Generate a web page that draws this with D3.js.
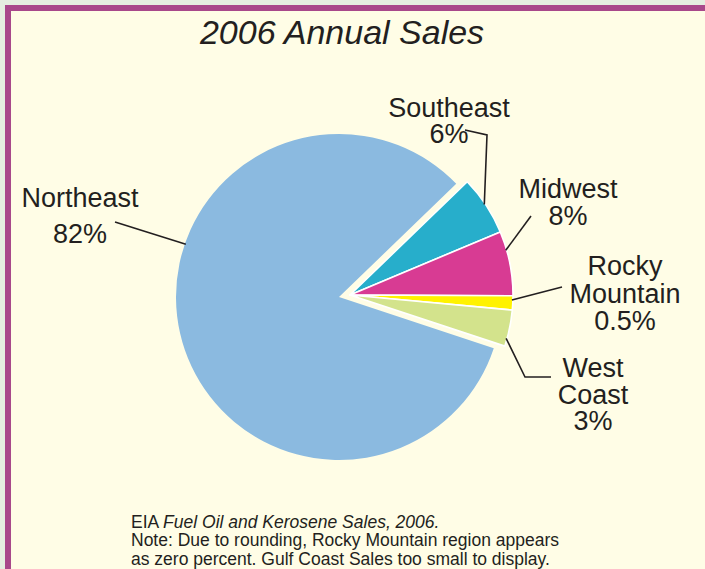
<!DOCTYPE html>
<html>
<head>
<meta charset="utf-8">
<script src="https://cdn.jsdelivr.net/npm/d3@7"></script>
<style>
  body { margin: 0; background: #e4eee0; }
  svg { display: block; font-family: "Liberation Sans", Arial, Helvetica, sans-serif; }
</style>
</head>
<body>
<div id="chart"></div>
<script>
// regions in drawing order (clockwise from the top right)
const regions = ["Southeast", "Midwest", "Rocky Mountain", "West Coast", "Northeast"];
// share of the circle as drawn in the picture (percent)
const drawnShares = [5.9, 6.4, 1.4, 3.6, 82.7];
// percentages printed on the labels
const pctLabels = ["6%", "8%", "0.5%", "3%", "82%"];
const sliceColors = ["#27aecb", "#d83b93", "#fff200", "#d3e38c", "#8bbae0"];

// label placement (first baseline, line height, leader line points from the text side)
const labelLayout = [
    {x: 449, y: 117, lh: 26, anchor: 56, leader: [[465, 130], [487, 135]]},
    {x: 568, y: 198, lh: 27, anchor: 74, leader: [[531, 216]]},
    {x: 625, y: 275, lh: 27.5, anchor: 91.8, leader: [[562, 287]]},
    {x: 593, y: 377, lh: 26.5, anchor: 105.5, leader: [[551, 377], [525, 377]]},
    {x: 80, y: 207, lh: 36, anchor: 289, leader: [[115, 222]]}
];
const labelText = [["Southeast"], ["Midwest"], ["Rocky", "Mountain"], ["West", "Coast"], ["Northeast"]];

const footLines = [
    ["EIA ", "Fuel Oil and Kerosene Sales, 2006."],
    ["Note: Due to rounding, Rocky Mountain region appears", ""],
    ["as zero percent. Gulf Coast Sales too small to display.", ""]
];

const width = 705, height = 569;
const radius = 163;
const mainCenter = [339, 297];   // Northeast
const explodedCenter = [350, 295]; // the small slices are pulled out

const svg = d3.select("#chart").append("svg")
    .attr("width", width)
    .attr("height", height);

// frame
svg.append("rect").attr("width", width).attr("height", height).attr("fill", "#e4eee0");
svg.append("rect").attr("x", 5).attr("y", 5).attr("width", width).attr("height", height).attr("fill", "#a8488a");
svg.append("rect").attr("x", 11).attr("y", 11).attr("width", width).attr("height", height).attr("fill", "#fffde6");

// title
svg.append("text")
    .attr("x", 342)
    .attr("y", 44)
    .attr("text-anchor", "middle")
    .style("font-size", "34px")
    .style("font-style", "italic")
    .style("fill", "#231f20")
    .text("2006 Annual Sales");

const data = regions.map((r, i) => ({region: r, share: drawnShares[i], color: sliceColors[i], idx: i}));

const pie = d3.pie()
    .sort(null)
    .value(d => d.share)
    .startAngle(46 * Math.PI / 180)
    .endAngle((46 + 360) * Math.PI / 180);

const arc = d3.arc().innerRadius(0).outerRadius(radius);
const arcs = pie(data);

function centerOf(d) {
    return d.data.region === "Northeast" ? mainCenter : explodedCenter;
}

svg.selectAll(".slice")
    .data(arcs)
    .enter()
    .append("path")
    .attr("class", "slice")
    .attr("transform", d => `translate(${centerOf(d)[0]},${centerOf(d)[1]})`)
    .attr("d", arc)
    .attr("fill", d => d.data.color)
    .attr("stroke", d => d.data.region === "Northeast" ? "none" : "#ffffff")
    .attr("stroke-width", 1.6)
    .attr("stroke-linejoin", "round");

// leader lines
const line = d3.line();
arcs.forEach((d, i) => {
    let lay = labelLayout[i];
    let c = centerOf(d);
    let a = lay.anchor * Math.PI / 180;
    let r = radius - 1;
    let anchor = [c[0] + r * Math.sin(a), c[1] - r * Math.cos(a)];
    svg.append("path")
        .attr("d", line(lay.leader.concat([anchor])))
        .attr("fill", "none")
        .attr("stroke", "#231f20")
        .attr("stroke-width", 1.6);
});

// labels
arcs.forEach((d, i) => {
    let lay = labelLayout[i];
    let lines = labelText[i].concat([pctLabels[i]]);
    let t = svg.append("text")
        .attr("text-anchor", "middle")
        .style("font-size", "27px")
        .style("fill", "#231f20");
    lines.forEach((s, j) => {
        t.append("tspan")
            .attr("x", lay.x)
            .attr("y", lay.y + j * lay.lh)
            .text(s);
    });
});

// source note
const foot = svg.append("text")
    .style("font-size", "17.5px")
    .style("fill", "#231f20");
footLines.forEach((l, j) => {
    let ts = foot.append("tspan")
        .attr("x", 131)
        .attr("y", 528 + j * 18.4)
        .text(l[0]);
    if (l[1]) {
        foot.append("tspan").style("font-style", "italic").text(l[1]);
    }
});
</script>
</body>
</html>
